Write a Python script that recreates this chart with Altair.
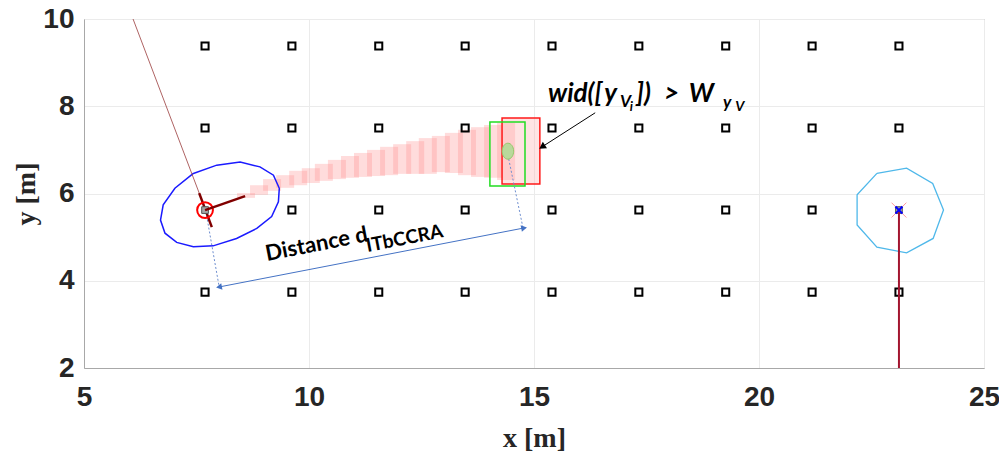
import altair as alt
import pandas as pd

# ---------------- data ----------------
anchor_x = [7.69, 9.62, 11.55, 13.47, 15.40, 17.33, 19.26, 21.18, 23.11]
anchor_y = [9.38, 7.50, 5.62, 3.74]
special_anchors_x = [7.69, 23.11]
special_anchors_y = [5.62, 5.62]

# pink uncertainty bars (left edge, width, bottom, top)
bar_x0 = [8.40, 8.69, 8.98, 9.27, 9.56, 9.84, 10.13, 10.42, 10.71, 11.00, 11.29,
          11.58, 11.87, 12.16, 12.44, 12.73, 13.02, 13.31, 13.60, 13.89, 14.18]
bar_w = 0.40
bar_lo = [5.90, 5.97, 6.06, 6.13, 6.19, 6.24, 6.29, 6.33, 6.36, 6.38, 6.40,
          6.42, 6.45, 6.45, 6.45, 6.49, 6.47, 6.42, 6.38, 6.36, 6.31]
bar_hi = [6.01, 6.19, 6.33, 6.42, 6.52, 6.58, 6.68, 6.77, 6.86, 6.93, 7.00,
          7.07, 7.13, 7.20, 7.27, 7.32, 7.39, 7.46, 7.52, 7.57, 7.62]

red_box = [14.29, 15.13, 6.22, 7.73]
green_box = [14.02, 14.80, 6.17, 7.64]
green_ell = [14.42, 6.97]

ellipse_x = [7.43, 7.95, 8.47, 8.91, 9.21, 9.34, 9.32, 9.17, 8.84, 8.39, 7.87,
             7.43, 7.06, 6.80, 6.70, 6.76, 7.02, 7.43]
ellipse_y = [6.46, 6.65, 6.72, 6.61, 6.42, 6.12, 5.81, 5.47, 5.20, 4.97, 4.80,
             4.78, 4.88, 5.09, 5.39, 5.74, 6.12, 6.46]

poly_x = [22.62, 23.28, 23.86, 24.10, 23.87, 23.28, 22.62, 22.18, 22.18, 22.62]
poly_y = [6.46, 6.58, 6.23, 5.62, 4.97, 4.64, 4.77, 5.28, 5.97, 6.46]

robot = [7.69, 5.62]
heading_x = [7.69, 8.58]
heading_y = [5.62, 5.94]
body_x = [7.56, 7.84]
body_y = [6.01, 5.23]
path_x = [6.09, 7.56]
path_y = [10.0, 6.01]

tag = [23.11, 5.62]
tag_line_x = [23.11, 23.11]
tag_line_y = [5.62, 2.0]

dot1_x = [7.71, 8.00]
dot1_y = [5.58, 3.88]
dot2_x = [14.42, 14.76]
dot2_y = [6.88, 5.19]
dist_x = [8.00, 14.78]
dist_y = [3.857, 5.21]
ann_arrow_x = [16.36, 15.18]
ann_arrow_y = [7.85, 7.07]

dist_text = ["Distance d", "ITbCCRA"]
dist_text_x = [9.067, 11.30]
dist_text_y = [4.453, 4.66]
dist_text_size = [22, 19]

ann_text = ["wid([", "y", "V", "i", "])", ">", "W", "y", "V"]
ann_text_x = [15.31, 16.56, 16.91, 17.13, 17.27, 17.89, 18.44, 19.20, 19.47]
ann_text_y = [8.10, 8.10, 7.98, 7.89, 8.10, 8.10, 8.10, 7.96, 7.88]
ann_text_size = [26, 26, 17, 13, 26, 26, 26, 17, 14]

x_ticks = [5, 10, 15, 20, 25]
y_ticks = [2, 4, 6, 8, 10]

# ---------------- scales / axes ----------------
xs = alt.Scale(domain=[5, 25], nice=False, zero=False)
ys = alt.Scale(domain=[2, 10], nice=False, zero=False)

x_axis = alt.Axis(
    values=x_ticks, title="x [m]", grid=True, ticks=False, labelFlush=False,
    labelPadding=15, labelFont="Liberation Sans", labelFontSize=28,
    labelFontWeight="bold", labelColor="#262626",
    titleFont="Liberation Serif", titleFontSize=28, titleFontWeight="bold",
    titleColor="#262626", titleBaseline="middle", titleY=70)
y_axis = alt.Axis(
    values=y_ticks, title="y [m]", grid=True, ticks=False, labelFlush=False,
    labelPadding=10, labelFont="Liberation Sans", labelFontSize=28,
    labelFontWeight="bold", labelColor="#262626",
    titleFont="Liberation Serif", titleFontSize=28, titleFontWeight="bold",
    titleColor="#262626", titleBaseline="middle", titleX=-58, titleY=174.5)


def X(f="x"):
    return alt.X(f"{f}:Q", scale=xs, axis=x_axis)


def Y(f="y"):
    return alt.Y(f"{f}:Q", scale=ys, axis=y_axis)


def line_df(xv, yv):
    return pd.DataFrame({"x": xv, "y": yv, "i": list(range(len(xv)))})


def line_layer(xv, yv, color, width, dash=None, opacity=1.0):
    kw = dict(color=color, strokeWidth=width, opacity=opacity, clip=True)
    if dash:
        kw["strokeDash"] = dash
    return alt.Chart(line_df(xv, yv)).mark_line(**kw).encode(
        x=X(), y=Y(), order="i:Q")


# pink bars
bars_df = pd.DataFrame({"x": bar_x0, "x2": [v + bar_w for v in bar_x0],
                        "y": bar_lo, "y2": bar_hi})
bars = alt.Chart(bars_df).mark_rect(fill="#ff8a8a", fillOpacity=0.3, strokeWidth=0).encode(
    x=X(), x2="x2:Q", y=Y(), y2="y2:Q")

red_df = pd.DataFrame({"x": [red_box[0]], "x2": [red_box[1]], "y": [red_box[2]], "y2": [red_box[3]]})
red_rect = alt.Chart(red_df).mark_rect(fill="#ffb0b0", fillOpacity=0.35, stroke="#ff1a1a",
                                       strokeWidth=1.5).encode(x=X(), x2="x2:Q", y=Y(), y2="y2:Q")
green_df = pd.DataFrame({"x": [green_box[0]], "x2": [green_box[1]], "y": [green_box[2]], "y2": [green_box[3]]})
green_rect = alt.Chart(green_df).mark_rect(fill="#ffffff", fillOpacity=0, stroke="#22dd22",
                                           strokeWidth=1.5).encode(x=X(), x2="x2:Q", y=Y(), y2="y2:Q")

ellipse = line_layer(ellipse_x, ellipse_y, "#1a1aff", 1.5)
polygon = line_layer(poly_x, poly_y, "#4fb8ea", 1.3)
dot1 = line_layer(dot1_x, dot1_y, "#6f8fd0", 1, dash=[2, 2])
dot2 = line_layer(dot2_x, dot2_y, "#6f8fd0", 1, dash=[2, 2])
dist = line_layer(dist_x, dist_y, "#4472c4", 1)
path = line_layer(path_x, path_y, "#a04848", 1, opacity=0.85)
body = line_layer(body_x, body_y, "#800000", 2.5)
heading = line_layer(heading_x, heading_y, "#800000", 2.5)
tag_line = line_layer(tag_line_x, tag_line_y, "#a3152f", 2)
ann_arrow = line_layer(ann_arrow_x, ann_arrow_y, "#000000", 1)

# arrow heads
heads_df = pd.DataFrame({"x": [dist_x[1], dist_x[0]], "y": [dist_y[1], dist_y[0]],
                         "a": [349.1, 169.1]})
dist_heads = alt.Chart(heads_df).mark_point(shape="triangle-right", filled=True, size=45,
                                            color="#4472c4", opacity=1).encode(
    x=X(), y=Y(), angle=alt.Angle("a:Q", scale=None))
ann_head_df = pd.DataFrame({"x": [ann_arrow_x[1]], "y": [ann_arrow_y[1]], "a": [147.3]})
ann_head = alt.Chart(ann_head_df).mark_point(shape="triangle-right", filled=True, size=60,
                                             color="#000000", opacity=1).encode(
    x=X(), y=Y(), angle=alt.Angle("a:Q", scale=None))

# anchors
anc = [(ax, ay) for ay in anchor_y for ax in anchor_x
       if not any(abs(ax - sx) < 1e-6 and abs(ay - sy) < 1e-6
                  for sx, sy in zip(special_anchors_x, special_anchors_y))]
anc_df = pd.DataFrame({"x": [a[0] for a in anc], "y": [a[1] for a in anc]})
anchors = alt.Chart(anc_df).mark_point(shape="square", size=50, filled=False, color="#000000",
                                       strokeWidth=2, opacity=1).encode(x=X(), y=Y())
sp_df = pd.DataFrame({"x": special_anchors_x, "y": special_anchors_y})
sp_anchors = alt.Chart(sp_df).mark_point(shape="square", size=45, filled=True, fill="#a6a6a6",
                                         stroke="#555555", strokeWidth=1, opacity=1).encode(x=X(), y=Y())

robot_df = pd.DataFrame({"x": [robot[0]], "y": [robot[1]]})
robot_circle = alt.Chart(robot_df).mark_point(shape="circle", size=250, filled=False,
                                              color="#ff0000", strokeWidth=2, opacity=1).encode(x=X(), y=Y())

tag_df = pd.DataFrame({"x": [tag[0]], "y": [tag[1]]})
tag_halo = alt.Chart(tag_df).mark_point(shape="M-1,-1L1,1M-1,1L1,-1", size=220, filled=False,
                                        color="#ff9a9a", strokeWidth=1, opacity=1).encode(x=X(), y=Y())
tag_x = alt.Chart(tag_df).mark_point(shape="M-1,-1L1,1M-1,1L1,-1", size=50, filled=False,
                                     color="#0000ff", strokeWidth=2, opacity=1).encode(x=X(), y=Y())

ge_df = pd.DataFrame({"x": [green_ell[0]], "y": [green_ell[1]]})
green_ellipse = alt.Chart(ge_df).mark_point(
    shape="M-0.72,0A0.72,1 0 1,0 0.72,0A0.72,1 0 1,0 -0.72,0Z", size=256, filled=True,
    fill="#b9d99b", stroke="#93c86a", strokeWidth=1, opacity=1).encode(x=X(), y=Y())

dt_df = pd.DataFrame({"t": dist_text, "x": dist_text_x, "y": dist_text_y, "s": dist_text_size})
dist_txt = alt.Chart(dt_df).mark_text(font="Lato", fontWeight="bold", color="#000000",
                                      align="left", baseline="alphabetic", angle=349).encode(
    x=X(), y=Y(), text="t:N", size=alt.Size("s:Q", scale=None))

at_df = pd.DataFrame({"t": ann_text, "x": ann_text_x, "y": ann_text_y, "s": ann_text_size})
ann_txt = alt.Chart(at_df).mark_text(font="Lato", fontWeight="bold", fontStyle="italic",
                                     color="#000000", align="left", baseline="alphabetic").encode(
    x=X(), y=Y(), text="t:N", size=alt.Size("s:Q", scale=None))

chart = alt.layer(
    bars, red_rect, green_rect, ellipse, polygon, dot1, dot2, dist, dist_heads,
    path, body, anchors, sp_anchors, robot_circle, heading, tag_line, tag_halo, tag_x,
    green_ellipse, ann_arrow, ann_head, dist_txt, ann_txt
).properties(
    width=900, height=349,
    autosize=alt.AutoSizeParams(type="none"),
    padding={"left": 76, "top": 11, "right": 15, "bottom": 92},
).configure_view(
    stroke="#a8a8a8", strokeWidth=1
).configure_axis(
    domainColor="#a8a8a8", gridColor="#ebebeb", gridWidth=1
)

chart.save("out.html", embed_options={"renderer": "svg", "actions": False})
